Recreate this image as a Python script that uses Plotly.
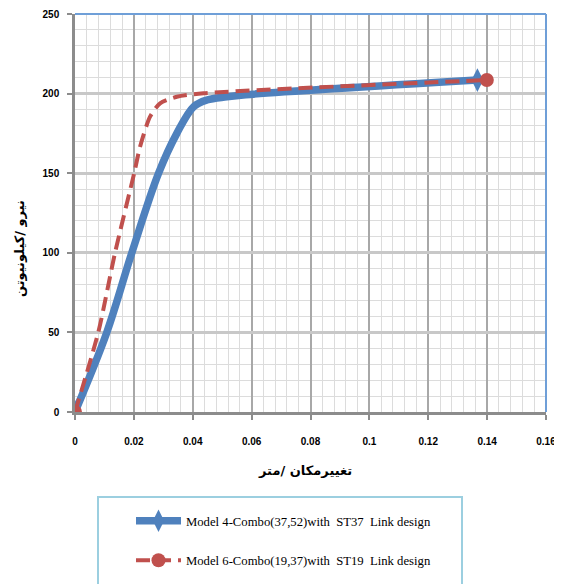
import plotly.graph_objects as go

# Data
blue_name = "Model 4-Combo(37,52)with  ST37  Link design"
blue_x = [0, 0.0108, 0.0193, 0.0284, 0.0346, 0.0403, 0.0448, 0.0516, 0.058, 0.1367]
blue_y = [0, 50, 100, 150, 175, 191.8, 196, 198, 199.3, 208.5]

red_name = "Model 6-Combo(19,37)with  ST19  Link design"
red_x = [0, 0.0079, 0.0136, 0.0201, 0.0221, 0.0255, 0.0289, 0.0346, 0.0437, 0.1399]
red_y = [0, 50, 100, 150, 166.6, 185.5, 193.9, 198, 200.2, 208.5]

x_ticks = [0, 0.02, 0.04, 0.06, 0.08, 0.1, 0.12, 0.14, 0.16]
x_ticklabels = ["0", "0.02", "0.04", "0.06", "0.08", "0.1", "0.12", "0.14", "0.16"]
y_ticks = [0, 50, 100, 150, 200, 250]
x_title = "تغییرمکان /متر"
y_title = "نیرو /کیلونیوتن"

BLUE = "#4f81bd"
RED = "#c0504d"

# page body has an 8px margin; figure is sized so it fills the window
OFF = 8
W, H = 562 - OFF, 584 - OFF
L, T = 75 - OFF, 14 - OFF
PW, PH = 471, 398
R, B = W - L - PW, H - T - PH


def px_x(p):  # reference window pixel -> paper fraction
    return (p - OFF - L) / PW


def px_y(p):
    return (T + PH - (p - OFF)) / PH


def end_colors(n, c):
    return [c if i in (0, n - 1) else "rgba(0,0,0,0)" for i in range(n)]


fig = go.Figure()
fig.add_trace(go.Scatter(
    x=blue_x, y=blue_y, name=blue_name, mode="lines+markers",
    line=dict(color=BLUE, width=7.5, shape="spline", smoothing=1.0),
    marker=dict(symbol="diamond-tall", color=end_colors(len(blue_x), BLUE), size=17),
    legendgroup="a",
))
fig.add_trace(go.Scatter(
    x=red_x, y=red_y, name=red_name, mode="lines+markers",
    line=dict(color=RED, width=4, dash="14px,7px", shape="spline", smoothing=0.7),
    marker=dict(symbol="circle", color=end_colors(len(red_x), RED), size=14),
    legendgroup="b",
))

tickfont = dict(family="Liberation Sans", size=10, color="#000000", weight="bold")
titlefont = dict(family="DejaVu Sans", size=13, color="#000000", weight="bold")

fig.update_layout(
    width=W, height=H,
    margin=dict(l=L, r=R, t=T, b=B, autoexpand=False),
    paper_bgcolor="white", plot_bgcolor="white",
    showlegend=True,
    legend=dict(
        x=px_x(131), y=px_y(506), xanchor="left", yanchor="top",
        borderwidth=0, bgcolor="rgba(0,0,0,0)",
        font=dict(family="Liberation Serif", size=12.7, color="#000000"),
        itemwidth=45, tracegroupgap=20, traceorder="grouped",
    ),
    xaxis=dict(
        range=[0, 0.16], tickvals=x_ticks, ticktext=x_ticklabels,
        showgrid=True, gridcolor="#a8a8a8", gridwidth=1.5,
        minor=dict(dtick=0.004, showgrid=True, gridcolor="#dcdcdc", gridwidth=1),
        showline=True, linecolor="#8c8c8c", linewidth=2.5,
        ticks="outside", ticklen=5, tickcolor="#8c8c8c", tickwidth=2,
        ticklabelstandoff=13, tickfont=tickfont, zeroline=False, automargin=False,
    ),
    yaxis=dict(
        range=[0, 250], tickvals=y_ticks,
        showgrid=True, gridcolor="#c8c8c8", gridwidth=2.5,
        minor=dict(dtick=10, showgrid=True, gridcolor="#dcdcdc", gridwidth=1),
        showline=True, linecolor="#8c8c8c", linewidth=2.5,
        ticks="outside", ticklen=5, tickcolor="#8c8c8c", tickwidth=2,
        ticklabelstandoff=6, tickfont=tickfont, zeroline=False, automargin=False,
    ),
    annotations=[
        dict(text=x_title, xref="paper", yref="paper", x=px_x(305), y=px_y(470),
             showarrow=False, font=titlefont, xanchor="center", yanchor="middle"),
        dict(text=y_title, xref="paper", yref="paper", x=px_x(20), y=px_y(249),
             showarrow=False, font=titlefont, textangle=-90, xanchor="center", yanchor="middle"),
    ],
    shapes=[
        dict(type="line", xref="paper", yref="paper", x0=0, x1=1, y0=1, y1=1,
             line=dict(color="#6f9fd8", width=2), layer="above"),
        dict(type="line", xref="paper", yref="paper", x0=1, x1=1, y0=0, y1=1,
             line=dict(color="#6f9fd8", width=2), layer="above"),
        dict(type="rect", xref="paper", yref="paper",
             x0=px_x(98), x1=px_x(462), y0=px_y(497), y1=px_y(600),
             line=dict(color="#9ccfe0", width=2), fillcolor="rgba(0,0,0,0)"),
    ],
)

fig.write_html("out.html")
